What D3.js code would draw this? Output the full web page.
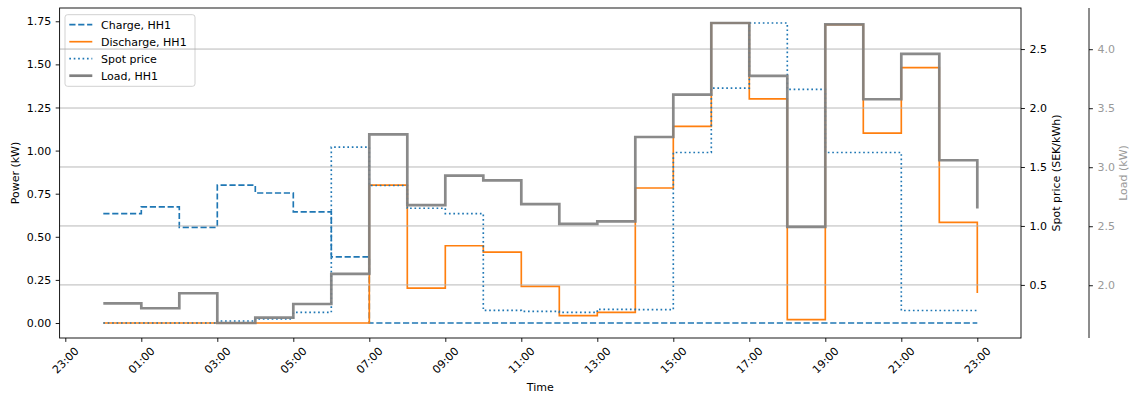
<!DOCTYPE html>
<html>
<head>
<meta charset="utf-8">
<script src="https://cdn.jsdelivr.net/npm/d3@7"></script>
<style>
  html, body { margin: 0; padding: 0; background: #fff; }
  svg { display: block; font-family: "DejaVu Sans", sans-serif; }
</style>
</head>
<body>
<svg id="chart" width="1131" height="394"></svg>
<script>
// Hour of day for each interval start (step-after drawing)
const hours = [0, 1, 2, 3, 4, 5, 6, 7, 8, 9, 10, 11, 12, 13, 14, 15, 16, 17, 18, 19, 20, 21, 22, 23];

// Battery charge / discharge power (kW)
const charge = [0.634, 0.674, 0.555, 0.800, 0.754, 0.645, 0.384, 0, 0, 0, 0, 0,
                0, 0, 0, 0, 0, 0, 0, 0, 0, 0, 0, 0];
const discharge = [0, 0, 0, 0, 0, 0, 0, 0.800, 0.202, 0.448, 0.411, 0.212,
                   0.043, 0.062, 0.783, 1.140, 1.740, 1.300, 0.020, 1.730, 1.101, 1.481, 0.584, 0.174];

// Spot price (SEK/kWh)
const spot = [0.177, 0.177, 0.177, 0.194, 0.211, 0.267, 1.668, 1.343, 1.150, 1.105, 0.284, 0.276,
              0.267, 0.293, 0.290, 1.623, 2.169, 2.721, 2.158, 1.623, 1.623, 0.283, 0.283, 0.283];

// Household load (kW)
const load = [1.847, 1.805, 1.932, 1.680, 1.726, 1.841, 2.096, 3.279, 2.679, 2.928, 2.889, 2.688,
              2.520, 2.541, 3.256, 3.615, 4.222, 3.774, 2.495, 4.210, 3.576, 3.961, 3.059, 2.651];

// Axis ticks
const xTickHours = [-1, 1, 3, 5, 7, 9, 11, 13, 15, 17, 19, 21, 23];
const powerTicks = [0, 0.25, 0.5, 0.75, 1.0, 1.25, 1.5, 1.75];
const spotTicks = [0.5, 1.0, 1.5, 2.0, 2.5];
const loadTicks = [2.0, 2.5, 3.0, 3.5, 4.0];

const legendLabels = ["Charge, HH1", "Discharge, HH1", "Spot price", "Load, HH1"];

// ---- layout ----
const svg = d3.select("#chart");
const L = 59.6, R = 1021, T = 8, B = 338;
const loadSpineX = 1089;
const FS = 11;
const lw = 1.67;
const tickLen = 3.9;

const BLUE = "#1f77b4", ORANGE = "#ff7f0e", GRAY = "#808080";

// Padded domain (5% margins) from a set of arrays
function padded(...arrs) {
  const all = arrs.flat();
  const lo = d3.min(all), hi = d3.max(all);
  const m = (hi - lo) * 0.05;
  return [lo - m, hi + m];
}

const hx = padded(hours);
const x = d3.scaleLinear().domain(hx).range([L, R]);
const yPow = d3.scaleLinear().domain(padded(charge, discharge)).range([B, T]);
const ySpot = d3.scaleLinear().domain(padded(spot)).range([B, T]);
const yLoad = d3.scaleLinear().domain(padded(load)).range([B, T]);

const stepLine = (yScale, vals) => d3.line()
  .curve(d3.curveStepAfter)
  .x((d, i) => x(hours[i]))
  .y(d => yScale(d))(vals);

const fmtHour = h => String(((h % 24) + 24) % 24).padStart(2, "0") + ":00";

// ---- power axis lines ----
const gPow = svg.append("g");
gPow.append("path").attr("d", stepLine(yPow, charge))
  .attr("fill", "none").attr("stroke", BLUE).attr("stroke-width", lw)
  .attr("stroke-dasharray", "6.2,2.7");
gPow.append("path").attr("d", stepLine(yPow, discharge))
  .attr("fill", "none").attr("stroke", ORANGE).attr("stroke-width", lw);

// ---- legend ----
const lg = svg.append("g").attr("transform", "translate(65,14.7)");
lg.append("rect").attr("x", 0).attr("y", 0).attr("width", 130).attr("height", 71.6)
  .attr("rx", 2.5).attr("fill", "#fff").attr("fill-opacity", 0.8)
  .attr("stroke", "#cccccc").attr("stroke-width", 0.9);
const legendStyles = [
  { stroke: BLUE, dash: "6.2,2.7", w: lw },
  { stroke: ORANGE, dash: null, w: lw },
  { stroke: BLUE, dash: "1.67,2.75", w: lw },
  { stroke: GRAY, dash: null, w: 2.7 }
];
legendLabels.forEach((lab, i) => {
  const cy = 10 + i * 17;
  const st = legendStyles[i];
  const ln = lg.append("line").attr("x1", 4.3).attr("x2", 27.3).attr("y1", cy).attr("y2", cy)
    .attr("stroke", st.stroke).attr("stroke-width", st.w);
  if (st.dash) ln.attr("stroke-dasharray", st.dash);
  lg.append("text").attr("x", 36).attr("y", cy).attr("dy", "0.36em")
    .attr("font-size", FS).attr("fill", "#000").text(lab);
});

// ---- grid (from spot price axis) ----
svg.append("g").selectAll("line").data(spotTicks).join("line")
  .attr("x1", L).attr("x2", R)
  .attr("y1", d => ySpot(d)).attr("y2", d => ySpot(d))
  .attr("stroke", "#b0b0b0").attr("stroke-width", 0.9);

// ---- spot price ----
svg.append("path").attr("d", stepLine(ySpot, spot))
  .attr("fill", "none").attr("stroke", BLUE).attr("stroke-width", lw)
  .attr("stroke-dasharray", "1.67,2.75");

// ---- load ----
svg.append("path").attr("d", stepLine(yLoad, load))
  .attr("fill", "none").attr("stroke", GRAY).attr("stroke-width", 2.7)
  .attr("stroke-opacity", 0.92);

// ---- frame ----
svg.append("rect").attr("x", L).attr("y", T).attr("width", R - L).attr("height", B - T)
  .attr("fill", "none").attr("stroke", "#000").attr("stroke-width", 0.9);

// ---- x axis ----
const gx = svg.append("g").attr("transform", `translate(0,${B})`)
  .call(d3.axisBottom(x).tickValues(xTickHours).tickFormat(fmtHour).tickSize(tickLen).tickPadding(0));
gx.select(".domain").remove();
gx.selectAll(".tick line").attr("stroke", "#000").attr("stroke-width", 0.9);
gx.selectAll(".tick text").each(function () {
  const t = d3.select(this);
  t.attr("font-size", FS).attr("font-family", "DejaVu Sans").attr("fill", "#000");
  const w = this.getComputedTextLength();
  const h = FS * 1.16;
  const half = (w + h) * Math.SQRT1_2 / 2;
  t.attr("y", null).attr("dy", "0.32em").attr("text-anchor", "middle")
    .attr("transform", `translate(0,${tickLen + 3 + half}) rotate(-45)`);
});
svg.append("text").attr("x", (L + R) / 2).attr("y", 391).attr("text-anchor", "middle")
  .attr("font-size", FS).text("Time");

// ---- left power axis ----
const gy = svg.append("g").attr("transform", `translate(${L},0)`)
  .call(d3.axisLeft(yPow).tickValues(powerTicks).tickFormat(d3.format(".2f")).tickSize(tickLen).tickPadding(4.5));
gy.select(".domain").remove();
gy.selectAll(".tick line").attr("stroke", "#000").attr("stroke-width", 0.9);
gy.selectAll(".tick text").attr("font-size", FS).attr("font-family", "DejaVu Sans").attr("fill", "#000");
svg.append("text").attr("transform", `translate(19,${(T + B) / 2}) rotate(-90)`)
  .attr("text-anchor", "middle").attr("font-size", FS).text("Power (kW)");

// ---- right spot axis ----
const gs = svg.append("g").attr("transform", `translate(${R},0)`)
  .call(d3.axisRight(ySpot).tickValues(spotTicks).tickFormat(d3.format(".1f")).tickSize(tickLen).tickPadding(4.5));
gs.select(".domain").remove();
gs.selectAll(".tick line").attr("stroke", "#000").attr("stroke-width", 0.9);
gs.selectAll(".tick text").attr("font-size", FS).attr("font-family", "DejaVu Sans").attr("fill", "#000");
svg.append("text").attr("transform", `translate(1060,${(T + B) / 2}) rotate(-90)`)
  .attr("text-anchor", "middle").attr("font-size", FS).text("Spot price (SEK/kWh)");

// ---- offset load axis ----
const LOADC = "#999999";
const gl = svg.append("g").attr("transform", `translate(${loadSpineX},0)`)
  .call(d3.axisRight(yLoad).tickValues(loadTicks).tickFormat(d3.format(".1f")).tickSize(tickLen).tickPadding(4.5));
gl.select(".domain").remove();
gl.append("line").attr("x1", 0).attr("x2", 0).attr("y1", T).attr("y2", B)
  .attr("stroke", "#000").attr("stroke-width", 0.9);
gl.selectAll(".tick line").attr("stroke", "#000").attr("stroke-width", 0.9);
gl.selectAll(".tick text").attr("font-size", FS).attr("font-family", "DejaVu Sans").attr("fill", LOADC);
svg.append("text").attr("transform", `translate(1127,${(T + B) / 2}) rotate(-90)`)
  .attr("text-anchor", "middle").attr("font-size", FS).attr("fill", LOADC).text("Load (kW)");
</script>
</body>
</html>
